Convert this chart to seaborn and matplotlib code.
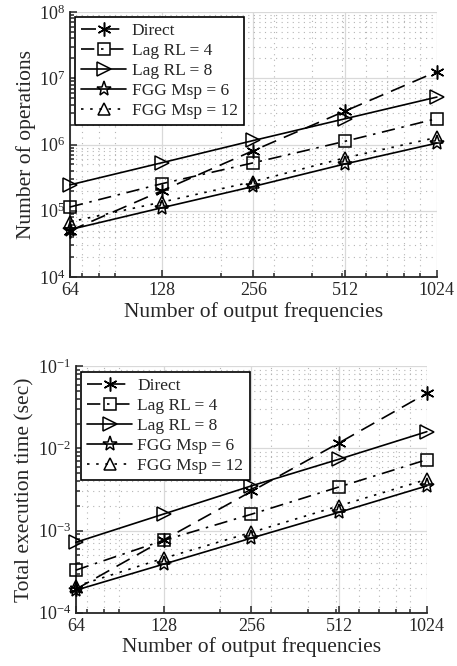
import numpy as np
import pandas as pd
import matplotlib
matplotlib.use('Agg')
import matplotlib.pyplot as plt
import matplotlib.ticker as mticker
import seaborn as sns

freqs = [64, 128, 256, 512, 1024]
labels = ['Direct', 'Lag RL = 4', 'Lag RL = 8', 'FGG Msp = 6', 'FGG Msp = 12']

ops_direct = [5.0e4, 2.0e5, 8.1e5, 3.2e6, 1.26e7]
ops_lag4 = [1.14e5, 2.56e5, 5.3e5, 1.12e6, 2.46e6]
ops_lag8 = [2.46e5, 5.3e5, 1.15e6, 2.45e6, 5.2e6]
ops_fgg6 = [5.2e4, 1.11e5, 2.33e5, 5.1e5, 1.05e6]
ops_fgg12 = [6.8e4, 1.35e5, 2.76e5, 6.3e5, 1.28e6]

time_direct = [1.93e-4, 7.7e-4, 3.0e-3, 1.17e-2, 4.7e-2]
time_lag4 = [3.3e-4, 7.6e-4, 1.58e-3, 3.4e-3, 7.3e-3]
time_lag8 = [7.2e-4, 1.59e-3, 3.5e-3, 7.4e-3, 1.6e-2]
time_fgg6 = [1.88e-4, 3.9e-4, 8.1e-4, 1.67e-3, 3.5e-3]
time_fgg12 = [2.1e-4, 4.6e-4, 9.5e-4, 2.0e-3, 4.2e-3]

# asterisk, square, right triangle, pentagram, triangle
markers = [(6, 2, 0), 's', '>', '*', '^']
msizes = [10, 8, 10, 11, 9]
linestyles = [(0, (9, 5)), (0, (8, 4, 1.5, 4)), '-', '-', (0, (1.5, 4))]

sns.set_style('ticks')
plt.rcParams['font.family'] = ['Liberation Serif', 'DejaVu Serif']
plt.rcParams['mathtext.fontset'] = 'stix'


def draw(ax, series, ylabel, ylim):
    for vals, lab, m, ms, ls in zip(series, labels, markers, msizes, linestyles):
        df = pd.DataFrame({'x': freqs, 'y': vals})
        sns.lineplot(data=df, x='x', y='y', ax=ax, color='black', lw=1.2,
                     linestyle=ls, marker=m, markersize=ms,
                     markerfacecolor='none', markeredgecolor='black',
                     markeredgewidth=1.1, label=lab, clip_on=False, zorder=5)
    ax.set_xscale('log')
    ax.set_yscale('log')
    ax.set_xlim(64, 1024)
    ax.set_ylim(*ylim)
    ax.xaxis.set_major_locator(mticker.FixedLocator(freqs))
    ax.xaxis.set_major_formatter(mticker.FixedFormatter([str(f) for f in freqs]))
    ax.xaxis.set_minor_locator(mticker.LogLocator(base=10, subs=np.arange(2, 10)))
    ax.xaxis.set_minor_formatter(mticker.NullFormatter())
    ax.yaxis.set_minor_locator(mticker.LogLocator(base=10, subs=np.arange(2, 10)))
    ax.yaxis.set_minor_formatter(mticker.NullFormatter())
    ax.grid(which='major', color='#d9d9d9', lw=0.9, ls='-')
    ax.grid(which='minor', color='#b5b5b5', lw=0.8, ls=(0, (1, 4)))
    ax.tick_params(which='both', direction='in', labelsize=13, width=1.1)
    ax.tick_params(which='major', length=5)
    ax.tick_params(which='minor', length=3)
    for s in ['top', 'right']:
        ax.spines[s].set_visible(False)
    for s in ['left', 'bottom']:
        ax.spines[s].set_linewidth(1.3)
    ax.set_xlabel('Number of output frequencies', fontsize=15.5, labelpad=2)
    ax.set_ylabel(ylabel, fontsize=15.5, labelpad=2)
    leg = ax.legend(loc='upper left', fontsize=12.5, frameon=True, fancybox=False,
                    edgecolor='black', framealpha=1, handlelength=2.6,
                    borderpad=0.35, labelspacing=0.22, handletextpad=0.3,
                    borderaxespad=0.3)
    leg.get_frame().set_linewidth(1.2)
    leg.set_zorder(10)


fig = plt.figure(figsize=(4.57, 6.66), dpi=100)
ax1 = fig.add_axes([0.153, 0.584, 0.803, 0.398])
ax2 = fig.add_axes([0.166, 0.080, 0.768, 0.370])

draw(ax1, [ops_direct, ops_lag4, ops_lag8, ops_fgg6, ops_fgg12],
     'Number of operations', (1e4, 1e8))
draw(ax2, [time_direct, time_lag4, time_lag8, time_fgg6, time_fgg12],
     'Total execution time (sec)', (1e-4, 1e-1))

fig.savefig('out.png', dpi=100)
